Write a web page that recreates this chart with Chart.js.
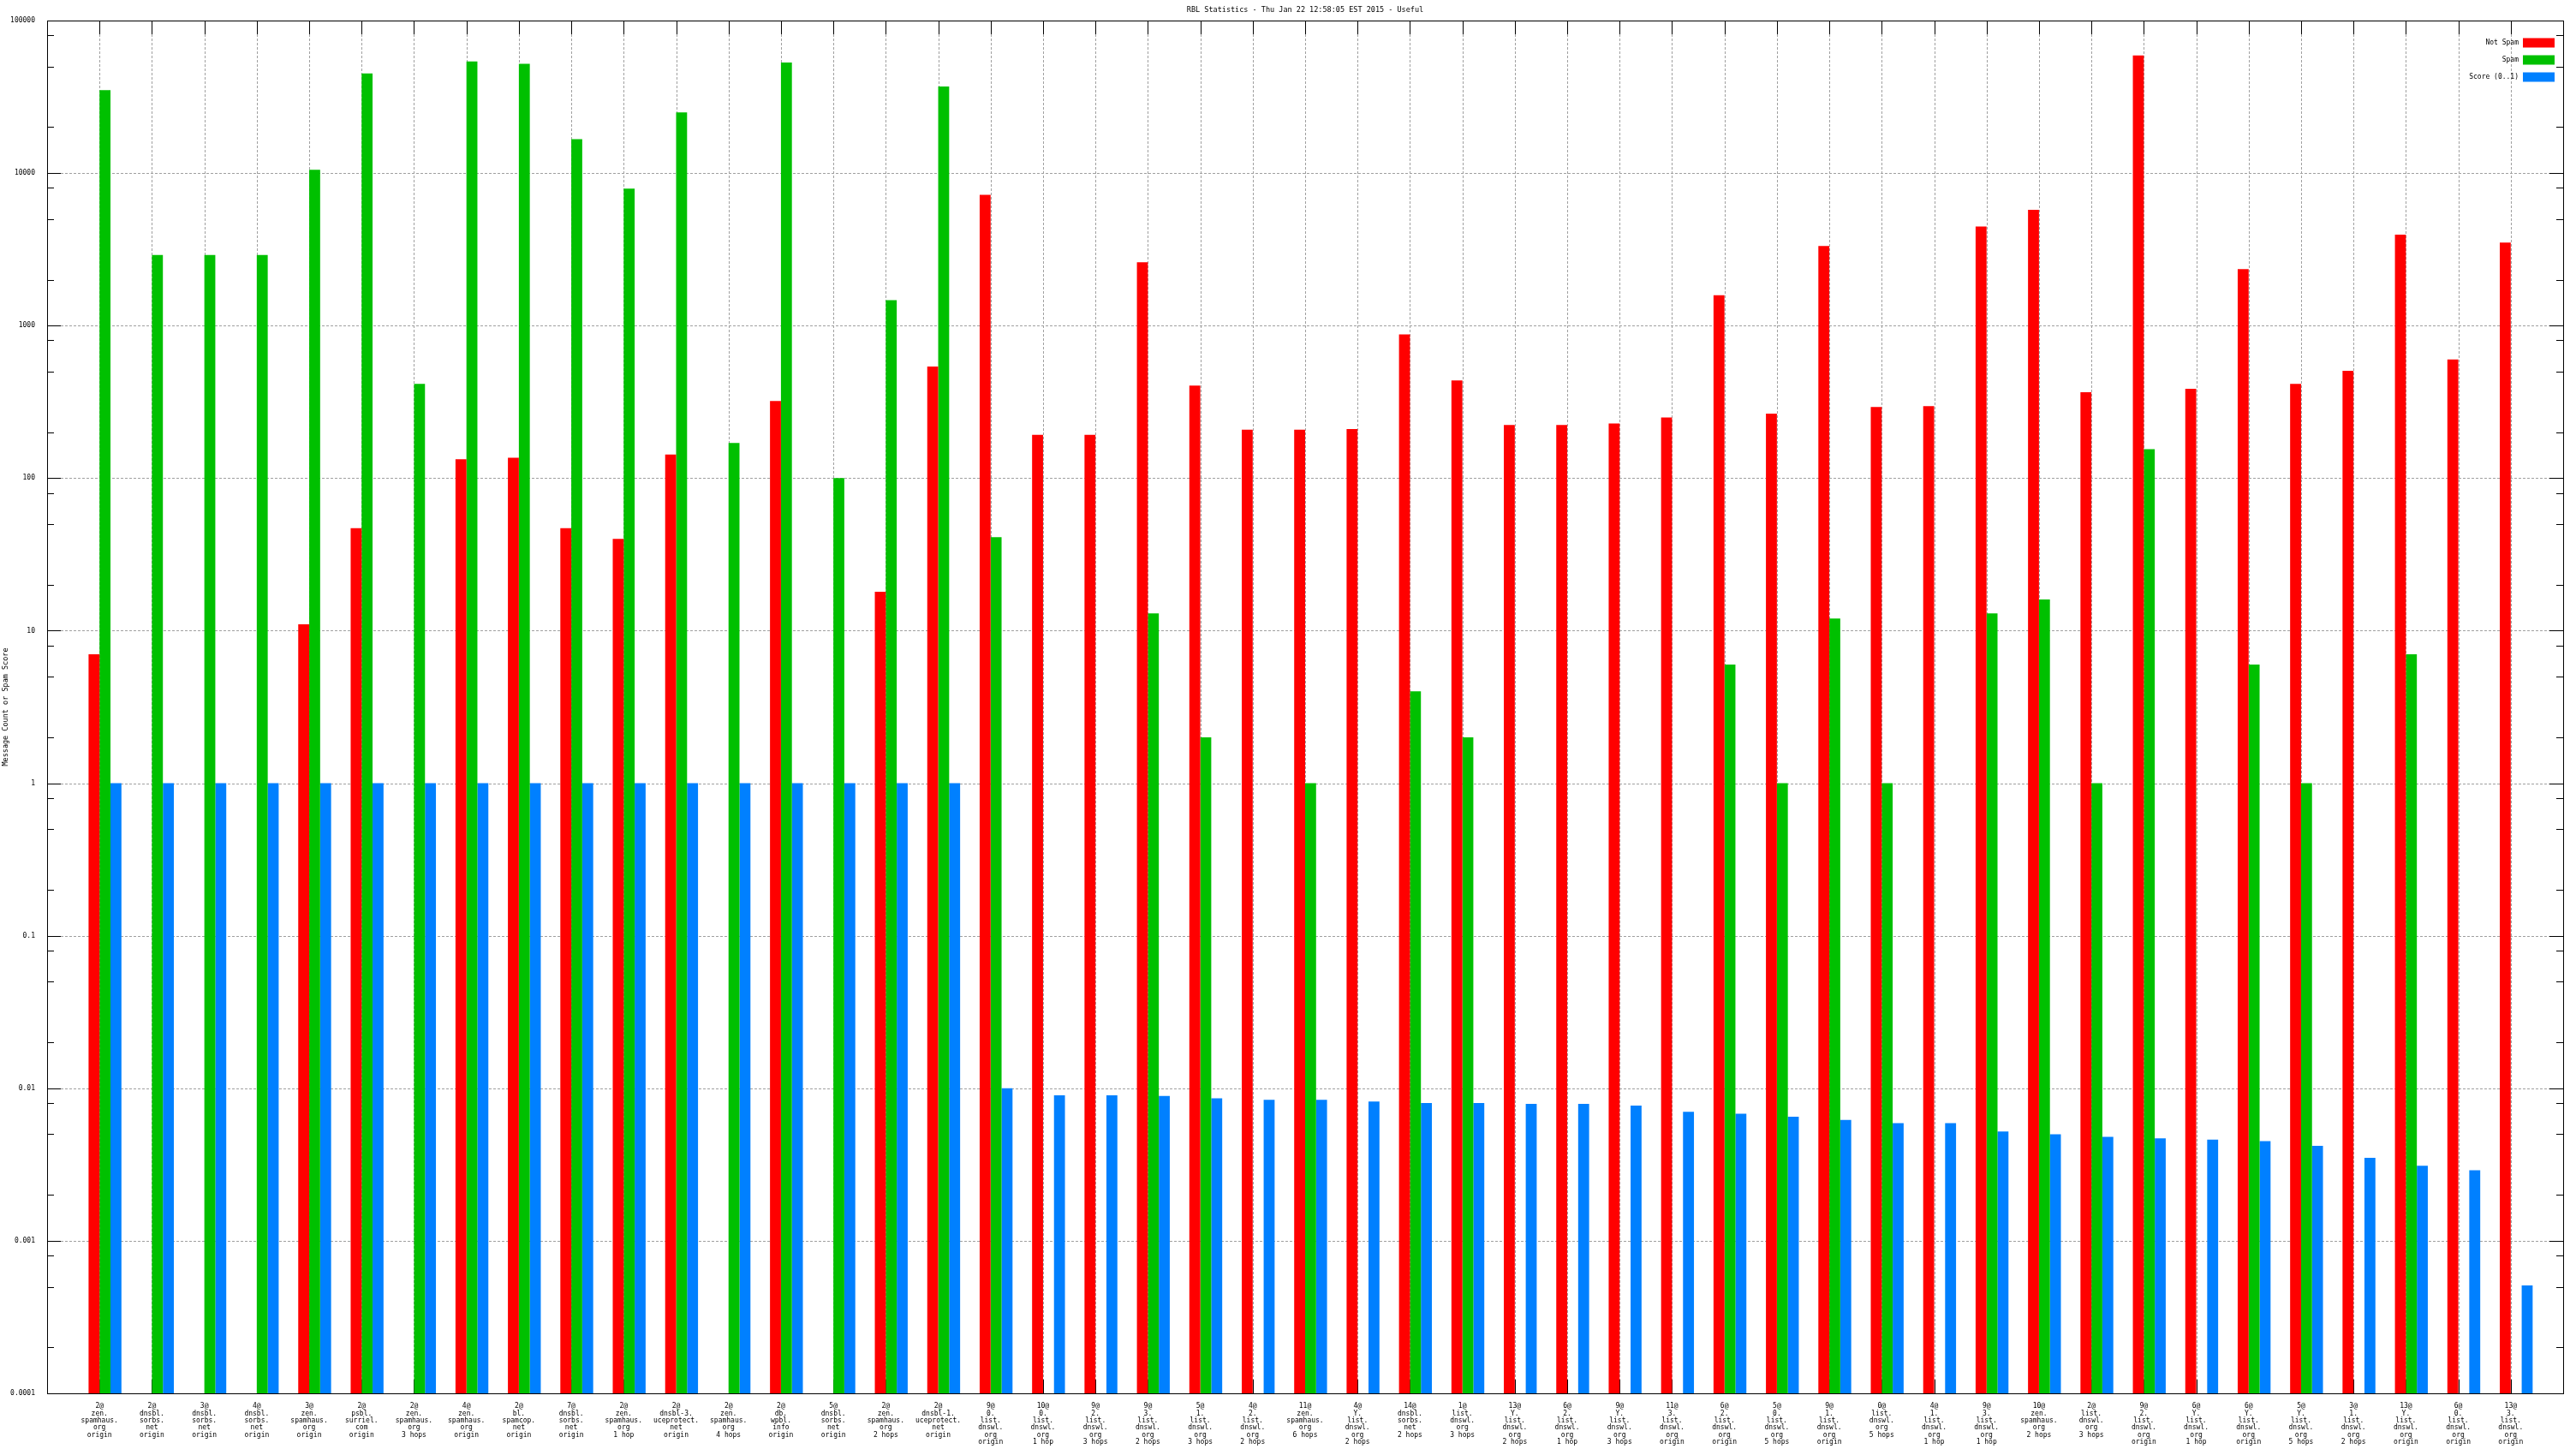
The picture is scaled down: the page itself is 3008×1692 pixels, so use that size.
<!DOCTYPE html>
<html>
<head>
<meta charset="utf-8">
<title>RBL Statistics</title>
<script src="https://cdn.jsdelivr.net/npm/chart.js@4.4.1/dist/chart.umd.min.js"></script>
<style>
  html, body { margin: 0; padding: 0; background: #fff; }
  canvas { display: block; }
</style>
</head>
<body>
<canvas id="rblChart" width="3008" height="1692"></canvas>
<script>
// Categories (one entry per rbl / hop, each line of the tick label)
const categories = [
  ["2@", "zen.", "spamhaus.", "org", "origin"],
  ["2@", "dnsbl.", "sorbs.", "net", "origin"],
  ["3@", "dnsbl.", "sorbs.", "net", "origin"],
  ["4@", "dnsbl.", "sorbs.", "net", "origin"],
  ["3@", "zen.", "spamhaus.", "org", "origin"],
  ["2@", "psbl.", "surriel.", "com", "origin"],
  ["2@", "zen.", "spamhaus.", "org", "3 hops"],
  ["4@", "zen.", "spamhaus.", "org", "origin"],
  ["2@", "bl.", "spamcop.", "net", "origin"],
  ["7@", "dnsbl.", "sorbs.", "net", "origin"],
  ["2@", "zen.", "spamhaus.", "org", "1 hop"],
  ["2@", "dnsbl-3.", "uceprotect.", "net", "origin"],
  ["2@", "zen.", "spamhaus.", "org", "4 hops"],
  ["2@", "db.", "wpbl.", "info", "origin"],
  ["5@", "dnsbl.", "sorbs.", "net", "origin"],
  ["2@", "zen.", "spamhaus.", "org", "2 hops"],
  ["2@", "dnsbl-1.", "uceprotect.", "net", "origin"],
  ["9@", "0.", "list.", "dnswl.", "org", "origin"],
  ["10@", "0.", "list.", "dnswl.", "org", "1 hop"],
  ["9@", "2.", "list.", "dnswl.", "org", "3 hops"],
  ["9@", "3.", "list.", "dnswl.", "org", "2 hops"],
  ["5@", "1.", "list.", "dnswl.", "org", "3 hops"],
  ["4@", "2.", "list.", "dnswl.", "org", "2 hops"],
  ["11@", "zen.", "spamhaus.", "org", "6 hops"],
  ["4@", "Y.", "list.", "dnswl.", "org", "2 hops"],
  ["14@", "dnsbl.", "sorbs.", "net", "2 hops"],
  ["1@", "list.", "dnswl.", "org", "3 hops"],
  ["13@", "Y.", "list.", "dnswl.", "org", "2 hops"],
  ["6@", "2.", "list.", "dnswl.", "org", "1 hop"],
  ["9@", "Y.", "list.", "dnswl.", "org", "3 hops"],
  ["11@", "3.", "list.", "dnswl.", "org", "origin"],
  ["6@", "2.", "list.", "dnswl.", "org", "origin"],
  ["5@", "0.", "list.", "dnswl.", "org", "5 hops"],
  ["9@", "1.", "list.", "dnswl.", "org", "origin"],
  ["0@", "list.", "dnswl.", "org", "5 hops"],
  ["4@", "1.", "list.", "dnswl.", "org", "1 hop"],
  ["9@", "3.", "list.", "dnswl.", "org", "1 hop"],
  ["10@", "zen.", "spamhaus.", "org", "2 hops"],
  ["2@", "list.", "dnswl.", "org", "3 hops"],
  ["9@", "2.", "list.", "dnswl.", "org", "origin"],
  ["6@", "Y.", "list.", "dnswl.", "org", "1 hop"],
  ["6@", "Y.", "list.", "dnswl.", "org", "origin"],
  ["5@", "Y.", "list.", "dnswl.", "org", "5 hops"],
  ["3@", "1.", "list.", "dnswl.", "org", "2 hops"],
  ["13@", "Y.", "list.", "dnswl.", "org", "origin"],
  ["6@", "0.", "list.", "dnswl.", "org", "origin"],
  ["13@", "3.", "list.", "dnswl.", "org", "origin"]
];

// Series values (null = no bar)
const notSpam = [
  7, null, null, null, 11, 47, null, 133, 136, 47,
  40, 143, null, 320, null, 18, 540, 7200, 192, 192,
  2600, 405, 208, 208, 210, 875, 437, 223, 223, 228,
  250, 1580, 265, 3330, 293, 297, 4470, 5750, 366, 59000,
  385, 2350, 415, 505, 3950, 600, 3500
];
const spam = [
  35000, 2900, 2900, 2900, 10500, 45000, 415, 54000, 52000, 16700,
  7900, 25000, 170, 53000, 100, 1470, 37000, 41, null, null,
  13, 2, null, 1, null, 4, 2, null, null, null,
  null, 6, 1, 12, 1, null, 13, 16, 1, 155,
  null, 6, 1, null, 7, null, null
];
const score = [
  1, 1, 1, 1, 1, 1, 1, 1, 1, 1,
  1, 1, 1, 1, 1, 1, 1, 0.0100, 0.0090, 0.0090,
  0.0089, 0.0086, 0.0084, 0.0084, 0.0082, 0.0080, 0.0080, 0.0079, 0.0079, 0.0077,
  0.0070, 0.0068, 0.0065, 0.0062, 0.0059, 0.0059, 0.0052, 0.0050, 0.0048, 0.0047,
  0.0046, 0.0045, 0.0042, 0.0035, 0.0031, 0.0029, 0.00051
];

// Y tick labels (decades)
const yTickValues = [0.0001, 0.001, 0.01, 0.1, 1, 10, 100, 1000, 10000, 100000];
const yTickLabels = ["0.0001", "0.001", "0.01", "0.1", "1", "10", "100", "1000", "10000", "100000"];
const yMinorSteps = [2, 5, 8];

const FONT = "'DejaVu Sans Mono', 'Liberation Mono', monospace";

// pad with an empty slot at each end (gnuplot range -1 .. n)
const pad = (arr) => [null].concat(arr, [null]);
const labels = [""].concat(categories, [""]);

/******************************************* Frame, grid, ticks and legend like gnuplot *******************************************/
const gnuplotFrame = {
  id: "gnuplotFrame",
  beforeDatasetsDraw(chart) {
    const { ctx, chartArea: a, scales } = chart;
    const x = scales.x, y = scales.y;
    const crisp = (v) => Math.round(v) + 0.5;

    ctx.save();
    // dashed grid
    ctx.strokeStyle = "#a0a0a0";
    ctx.lineWidth = 1;
    ctx.setLineDash([3, 2]);
    yTickValues.forEach((v) => {
      if (v <= y.min || v >= y.max) return;
      const py = crisp(y.getPixelForValue(v));
      ctx.beginPath();
      ctx.moveTo(a.left + 16, py);
      ctx.lineTo(a.right - 16, py);
      ctx.stroke();
    });
    categories.forEach((c, i) => {
      const px = crisp(x.getPixelForValue(i + 1));
      ctx.beginPath();
      ctx.moveTo(px, a.top + 16);
      ctx.lineTo(px, a.bottom - 16);
      ctx.stroke();
    });

    // ticks
    ctx.setLineDash([]);
    ctx.strokeStyle = "#000";
    const tick = (x1, y1, x2, y2) => {
      ctx.beginPath();
      ctx.moveTo(x1, y1);
      ctx.lineTo(x2, y2);
      ctx.stroke();
    };
    yTickValues.forEach((v) => {
      const py = crisp(y.getPixelForValue(v));
      tick(a.left, py, a.left + 16, py);
      tick(a.right - 16, py, a.right, py);
      yMinorSteps.forEach((m) => {
        const mv = v * m;
        if (mv >= y.max) return;
        const my = crisp(y.getPixelForValue(mv));
        tick(a.left, my, a.left + 8, my);
        tick(a.right - 8, my, a.right, my);
      });
    });
    categories.forEach((c, i) => {
      const px = crisp(x.getPixelForValue(i + 1));
      tick(px, a.top, px, a.top + 16);
      tick(px, a.bottom, px, a.bottom - 16);
    });
    ctx.restore();
  },
  afterDraw(chart) {
    const { ctx, chartArea: a, data } = chart;
    ctx.save();
    // border
    ctx.strokeStyle = "#000";
    ctx.lineWidth = 1;
    ctx.strokeRect(Math.round(a.left) + 0.5, Math.round(a.top) + 0.5,
      Math.round(a.right - a.left), Math.round(a.bottom - a.top));

    // legend, top right inside the plot
    ctx.font = "8px " + FONT;
    ctx.textAlign = "right";
    ctx.textBaseline = "middle";
    data.datasets.filter((d) => d.label).forEach((d, i) => {
      const rowY = a.top + 26 + i * 20;
      ctx.fillStyle = "#000";
      ctx.fillText(d.label, a.right - 52, rowY);
      ctx.fillStyle = d.backgroundColor;
      ctx.fillRect(a.right - 47, rowY - 5.5, 37, 11);
    });
    ctx.restore();
  }
};

/******************************************* Render chart *******************************************/
new Chart(document.getElementById("rblChart"), {
  type: "bar",
  data: {
    labels: labels,
    datasets: [
      // empty spacer so the group sits to the right of the tick, as gnuplot does
      { label: "", data: pad(categories.map(() => null)), backgroundColor: "rgba(0,0,0,0)" },
      { label: "Not Spam", data: pad(notSpam), backgroundColor: "#ff0000" },
      { label: "Spam", data: pad(spam), backgroundColor: "#00c000" },
      { label: "Score (0..1)", data: pad(score), backgroundColor: "#0080ff" }
    ]
  },
  options: {
    responsive: false,
    animation: false,
    devicePixelRatio: 1,
    layout: { padding: { left: 0, right: 15, top: 0, bottom: 0 } },
    datasets: {
      bar: { categoryPercentage: 0.836, barPercentage: 1.0, borderWidth: 0 }
    },
    plugins: {
      legend: { display: false },
      tooltip: { enabled: false },
      title: {
        display: true,
        fullSize: false,
        text: "RBL Statistics - Thu Jan 22 12:58:05 EST 2015 - Useful",
        color: "#000",
        font: { family: FONT, size: 8.5, weight: "normal", lineHeight: 1.2 },
        padding: { top: 7, bottom: 6.8 }
      }
    },
    scales: {
      x: {
        type: "category",
        offset: false,
        grid: { display: false, offset: false },
        border: { display: false },
        ticks: {
          autoSkip: false,
          maxRotation: 0,
          minRotation: 0,
          color: "#000",
          padding: 3,
          font: { family: FONT, size: 8, lineHeight: 1.04 }
        },
        afterFit: (s) => { s.height = 65; }
      },
      y: {
        type: "logarithmic",
        min: 0.0001,
        max: 100000,
        grid: { display: false },
        border: { display: false },
        title: {
          display: true,
          text: "Message Count or Spam Score",
          color: "#000",
          font: { family: FONT, size: 8.5, lineHeight: 1.2 },
          padding: { top: 2, bottom: 0 }
        },
        afterBuildTicks: (s) => {
          s.ticks = yTickValues.map((v) => ({ value: v }));
        },
        ticks: {
          color: "#000",
          padding: 6,
          font: { family: FONT, size: 8 },
          callback: (v) => {
            const i = yTickValues.indexOf(v);
            return i >= 0 ? yTickLabels[i] : "";
          }
        },
        afterFit: (s) => { s.width = 55; }
      }
    }
  },
  plugins: [gnuplotFrame]
});
</script>
</body>
</html>
